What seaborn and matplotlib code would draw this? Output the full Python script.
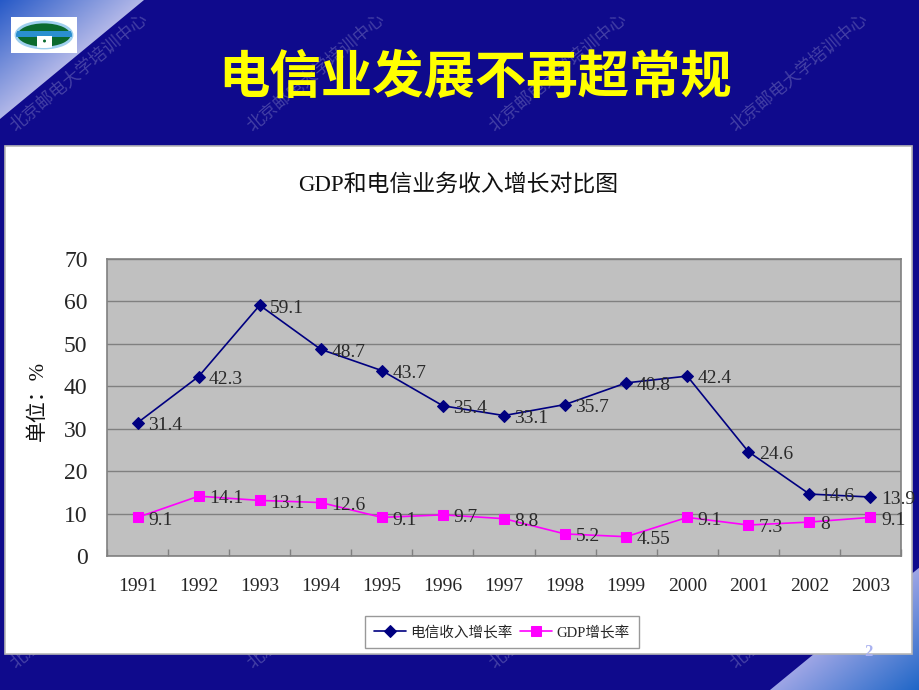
import numpy as np
import pandas as pd
import matplotlib
matplotlib.use("Agg")
import matplotlib.pyplot as plt
import seaborn as sns
from matplotlib.patches import Rectangle, Polygon, Ellipse

# ---------------- data ----------------
years = ['1991', '1992', '1993', '1994', '1995', '1996', '1997',
         '1998', '1999', '2000', '2001', '2002', '2003']
telecom = [31.4, 42.3, 59.1, 48.7, 43.7, 35.4, 33.1, 35.7, 40.8, 42.4, 24.6, 14.6, 13.9]
telecom_labels = ['31.4', '42.3', '59.1', '48.7', '43.7', '35.4', '33.1', '35.7',
                  '40.8', '42.4', '24.6', '14.6', '13.9']
gdp = [9.1, 14.1, 13.1, 12.6, 9.1, 9.7, 8.8, 5.2, 4.55, 9.1, 7.3, 8, 9.1]
gdp_labels = ['9.1', '14.1', '13.1', '12.6', '9.1', '9.7', '8.8', '5.2',
              '4.55', '9.1', '7.3', '8', '9.1']
series_names = ['电信收入增长率', 'GDP增长率']
yticks = [0, 10, 20, 30, 40, 50, 60, 70]
slide_title = '电信业发展不再超常规'
chart_title = 'GDP和电信业务收入增长对比图'
y_label = '单位：%'
watermark = '北京邮电大学培训中心'

sns.set_style('white')
plt.rcParams['font.family'] = ['Liberation Serif', 'Noto Sans CJK SC', 'DejaVu Sans']

W, H = 920, 690
fig = plt.figure(figsize=(W / 100, H / 100), dpi=100)
fig.patch.set_facecolor('#0f0a8c')

# ---------------- background decoration (pixel coordinates) ----------------
bg = fig.add_axes([0, 0, 1, 1])
bg.axis('off')
bg.add_patch(Rectangle((0, 0), W, H, facecolor='#0f0a8c', edgecolor='none', zorder=0))

blue = np.array([0.15, 0.35, 0.78])
lav = np.array([0.70, 0.72, 0.91])

# top-left gradient triangle
gx, gy = np.meshgrid(np.linspace(0, 144, 200), np.linspace(0, 119, 200))
t = np.clip(gx / 144 + gy / 119, 0, 1)
img = blue[None, None, :] * (1 - t[..., None]) + lav[None, None, :] * t[..., None]
im = bg.imshow(img, extent=(0, 144, 119, 0), zorder=1, interpolation='bilinear')
tri = Polygon([(0, 0), (144, 0), (0, 119)], closed=True, transform=bg.transData)
im.set_clip_path(tri)

# bottom-right gradient triangle
gx, gy = np.meshgrid(np.linspace(770, 920, 200), np.linspace(567, 690, 200))
t = np.clip((920 - gx) / 150 + (690 - gy) / 123, 0, 1)
blue2 = np.array([0.12, 0.40, 0.78])
lav2 = np.array([0.62, 0.65, 0.90])
img2 = blue2[None, None, :] * (1 - t[..., None]) + lav2[None, None, :] * t[..., None]
im2 = bg.imshow(img2, extent=(770, 920, 690, 567), zorder=1, interpolation='bilinear')
tri2 = Polygon([(770, 690), (920, 690), (920, 567)], closed=True, transform=bg.transData)
im2.set_clip_path(tri2)
bg.set_xlim(0, W)
bg.set_ylim(H, 0)
bg.set_aspect('auto')
tri.set_transform(bg.transData)
tri2.set_transform(bg.transData)

# watermarks
for x0 in [18, 255, 497, 738]:
    for y0 in [135, 672]:
        bg.text(x0, y0, watermark, rotation=40, rotation_mode='anchor',
                ha='left', va='bottom', fontsize=12.5, color='white', alpha=0.22,
                family=['Noto Sans CJK SC'], zorder=2)

# logo
bg.add_patch(Rectangle((11, 17), 66, 36, facecolor='white', edgecolor='none', zorder=3))
ell = Ellipse((44, 35), 56, 26, facecolor='#0b6a2e', edgecolor='#9fd0ee', lw=2, zorder=4)
bg.add_patch(ell)
band = Rectangle((16, 31), 56, 6, facecolor='#2a8fd0', edgecolor='none', zorder=5)
bg.add_patch(band)
band.set_clip_path(ell)
cen = Rectangle((37, 36), 15, 12, facecolor='white', edgecolor='none', zorder=5)
bg.add_patch(cen)
cen.set_clip_path(ell)
bg.add_patch(Ellipse((44.5, 41), 3, 3, facecolor='#0b6a2e', edgecolor='none', zorder=6))

# slide title
bg.text(475, 77, slide_title, ha='center', va='center', fontsize=37,
        fontweight='bold', color='#ffff00', family=['Noto Sans CJK SC'], zorder=6)

# white chart panel
bg.add_patch(Rectangle((5, 146), 907, 508, facecolor='white', edgecolor='#b8b8b8',
                       lw=1.2, zorder=7))

# chart title and y label
bg.text(458, 185, chart_title, ha='center', va='center', fontsize=16.5,
        color='#111111', zorder=8)
bg.text(38, 401, y_label, ha='center', va='center', rotation=90, fontsize=15,
        color='#111111', zorder=8)

# page number
bg.text(868, 652, '2', ha='center', va='center', fontsize=12, fontweight='bold',
        color='#aab2f0', zorder=9)

# ---------------- main chart ----------------
ax = fig.add_axes([107 / W, 1 - 556 / H, (901 - 107) / W, (556 - 259) / H])
ax.set_zorder(10)
ax.set_facecolor('#c0c0c0')
xpos = np.arange(len(years))
df = pd.DataFrame({'x': xpos, 'telecom': telecom, 'gdp': gdp})

sns.lineplot(data=df, x='x', y='telecom', ax=ax, color='#000080', marker='D',
             markersize=5.8, markeredgecolor='#000080', linewidth=1.2,
             label=series_names[0], zorder=4)
sns.lineplot(data=df, x='x', y='gdp', ax=ax, color='#ff00ff', marker='s',
             markersize=6.5, markeredgecolor='#ff00ff', linewidth=1.2,
             label=series_names[1], zorder=4)

for xi, v, s in zip(xpos, telecom, telecom_labels):
    ax.annotate(s, (xi, v), xytext=(7.5, -2), textcoords='offset points',
                ha='left', va='center', fontsize=14, color='#2a2a2a',
                annotation_clip=False, zorder=5)
for xi, v, s in zip(xpos, gdp, gdp_labels):
    ax.annotate(s, (xi, v), xytext=(7.5, -2), textcoords='offset points',
                ha='left', va='center', fontsize=14, color='#2a2a2a',
                annotation_clip=False, zorder=5)

ax.set_xlim(-0.5, len(years) - 0.5)
ax.set_ylim(0, 70)
ax.set_yticks(yticks)
ax.set_yticklabels([str(v) for v in yticks])
ax.set_xticks(xpos)
ax.set_xticklabels(years)
ax.set_xticks(np.arange(-0.5, len(years)), minor=True)
ax.tick_params(axis='x', which='major', length=0, pad=16, labelsize=14)
ax.tick_params(axis='x', which='minor', length=5, direction='in', color='#808080',
               width=1, bottom=True)
ax.tick_params(axis='y', which='major', length=0, pad=14, labelsize=17)
ax.set_xlabel('')
ax.set_ylabel('')
ax.grid(axis='y', color='#808080', linewidth=1)
ax.grid(axis='x', visible=False)
ax.set_axisbelow(True)
for sp in ax.spines.values():
    sp.set_visible(True)
    sp.set_color('#808080')
    sp.set_linewidth(1.2)

handles, labels = ax.get_legend_handles_labels()
if ax.get_legend() is not None:
    ax.get_legend().remove()
leg = fig.legend(handles, labels, loc='center', bbox_to_anchor=(502 / W, 1 - 632 / H),
                 ncol=2, frameon=True, fancybox=False,
                 handlelength=2.2, columnspacing=0.5, handletextpad=0.3,
                 borderpad=0.65,
                 prop={'family': ['Liberation Serif', 'Noto Sans CJK SC'], 'size': 10.5})
leg.get_frame().set_edgecolor('#808080')
leg.get_frame().set_linewidth(1)
leg.set_zorder(20)

fig.savefig('out.png', dpi=100, facecolor=fig.get_facecolor())
